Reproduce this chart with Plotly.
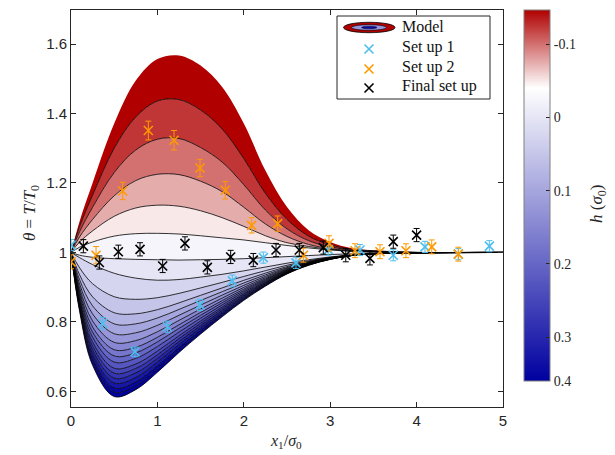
import plotly.graph_objects as go
from plotly.colors import sample_colorscale

# ---------------- data ----------------
x_grid = [0, 0.1, 0.25, 0.5, 0.75, 1.0, 1.25, 1.5, 1.75, 2.0, 2.25, 2.5, 2.75, 3.0, 3.25, 3.5, 4.0, 5.0]

h_levels = [-0.15, -0.125, -0.1, -0.075, -0.05, -0.025, 0.0, 0.025, 0.05, 0.075, 0.1, 0.125,
            0.15, 0.175, 0.2, 0.225, 0.25, 0.275, 0.3, 0.325, 0.35, 0.375, 0.4]

theta_h_m0150 = [1, 1.09, 1.20, 1.371, 1.495, 1.557, 1.567, 1.538, 1.476, 1.371, 1.236, 1.131, 1.064, 1.030, 1.012, 1.006, 1.0, 1.0]
theta_h_m0125 = [1, 1.075, 1.165, 1.30, 1.39, 1.436, 1.44, 1.41, 1.355, 1.27, 1.17, 1.095, 1.047, 1.022, 1.009, 1.005, 1.0, 1.0]
theta_h_m0100 = [1, 1.06, 1.13, 1.23, 1.295, 1.326, 1.328, 1.302, 1.26, 1.195, 1.122, 1.068, 1.034, 1.016, 1.007, 1.004, 1.0, 1.0]
theta_h_m0075 = [1, 1.045, 1.095, 1.163, 1.207, 1.225, 1.224, 1.205, 1.175, 1.13, 1.082, 1.046, 1.023, 1.011, 1.005, 1.003, 1.0, 1.0]
theta_h_m0050 = [1, 1.03, 1.062, 1.104, 1.128, 1.136, 1.133, 1.12, 1.10, 1.075, 1.048, 1.028, 1.017, 1.009, 1.004, 1.002, 1.0, 1.0]
theta_h_m0025 = [1, 1.015, 1.03, 1.047, 1.054, 1.055, 1.053, 1.048, 1.042, 1.036, 1.028, 1.020, 1.013, 1.007, 1.003, 1.001, 1.0, 1.0]
theta_h_0000 = [1, 0.992, 0.986, 0.982, 0.98, 0.979, 0.978, 0.979, 0.98, 0.982, 0.985, 0.988, 0.991, 0.994, 0.996, 0.998, 0.999, 1.0]
theta_h_0025 = [1, 0.985, 0.965, 0.940, 0.926, 0.920, 0.922, 0.929, 0.937, 0.947, 0.958, 0.969, 0.979, 0.987, 0.993, 0.997, 0.999, 1.0]
theta_h_0050 = [1, 0.9555, 0.9099, 0.8725, 0.865, 0.8697, 0.8821, 0.8978, 0.9138, 0.9309, 0.9475, 0.9631, 0.976, 0.9857, 0.9926, 0.9968, 0.999, 1.0]
theta_h_0075 = [1, 0.9354, 0.8722, 0.8264, 0.8233, 0.8352, 0.8548, 0.8765, 0.898, 0.9198, 0.9404, 0.9591, 0.9739, 0.9848, 0.9924, 0.9967, 0.999, 1.0]
theta_h_0100 = [1, 0.9214, 0.8461, 0.7944, 0.7944, 0.8113, 0.8359, 0.8618, 0.887, 0.9121, 0.9354, 0.9563, 0.9724, 0.9841, 0.9922, 0.9966, 0.999, 1.0]
theta_h_0125 = [1, 0.909, 0.8229, 0.766, 0.7687, 0.7901, 0.8191, 0.8486, 0.8772, 0.9053, 0.931, 0.9538, 0.9712, 0.9836, 0.992, 0.9965, 0.999, 1.0]
theta_h_0150 = [1, 0.8982, 0.8026, 0.7412, 0.7462, 0.7716, 0.8044, 0.8372, 0.8687, 0.8994, 0.9272, 0.9516, 0.97, 0.9831, 0.9919, 0.9964, 0.999, 1.0]
theta_h_0175 = [1, 0.8889, 0.7852, 0.7199, 0.727, 0.7557, 0.7918, 0.8273, 0.8614, 0.8943, 0.9239, 0.9498, 0.9691, 0.9827, 0.9918, 0.9964, 0.999, 1.0]
theta_h_0200 = [1, 0.8811, 0.7707, 0.7021, 0.7109, 0.7424, 0.7813, 0.8191, 0.8553, 0.89, 0.9211, 0.9482, 0.9683, 0.9823, 0.9917, 0.9963, 0.999, 1.0]
theta_h_0225 = [1, 0.8734, 0.7562, 0.6844, 0.6949, 0.7292, 0.7708, 0.8109, 0.8492, 0.8858, 0.9184, 0.9467, 0.9675, 0.982, 0.9916, 0.9963, 0.999, 1.0]
theta_h_0250 = [1, 0.8656, 0.7417, 0.6666, 0.6788, 0.7159, 0.7603, 0.8027, 0.8431, 0.8815, 0.9156, 0.9451, 0.9667, 0.9816, 0.9915, 0.9962, 0.999, 1.0]
theta_h_0275 = [1, 0.8594, 0.7301, 0.6524, 0.666, 0.7053, 0.7519, 0.7962, 0.8382, 0.8781, 0.9134, 0.9439, 0.966, 0.9813, 0.9914, 0.9962, 0.999, 1.0]
theta_h_0300 = [1, 0.8532, 0.7185, 0.6382, 0.6531, 0.6947, 0.7435, 0.7896, 0.8333, 0.8747, 0.9112, 0.9426, 0.9654, 0.981, 0.9913, 0.9962, 0.999, 1.0]
theta_h_0325 = [1, 0.847, 0.7069, 0.624, 0.6403, 0.6841, 0.7351, 0.783, 0.8284, 0.8713, 0.909, 0.9414, 0.9648, 0.9808, 0.9912, 0.9961, 0.999, 1.0]
theta_h_0350 = [1, 0.8408, 0.6953, 0.6098, 0.6275, 0.6735, 0.7267, 0.7765, 0.8235, 0.8679, 0.9068, 0.9402, 0.9641, 0.9805, 0.9911, 0.9961, 0.999, 1.0]
theta_h_0375 = [1, 0.8354, 0.6851, 0.5974, 0.6162, 0.6643, 0.7193, 0.7707, 0.8193, 0.865, 0.9049, 0.9391, 0.9636, 0.9802, 0.9911, 0.996, 0.999, 1.0]
theta_h_0400 = [1, 0.83, 0.675, 0.585, 0.605, 0.655, 0.712, 0.765, 0.815, 0.862, 0.903, 0.938, 0.963, 0.98, 0.991, 0.996, 0.999, 1.0]

model_curves = [theta_h_m0150, theta_h_m0125, theta_h_m0100, theta_h_m0075, theta_h_m0050,
                theta_h_m0025, theta_h_0000, theta_h_0025, theta_h_0050, theta_h_0075,
                theta_h_0100, theta_h_0125, theta_h_0150, theta_h_0175, theta_h_0200,
                theta_h_0225, theta_h_0250, theta_h_0275, theta_h_0300, theta_h_0325,
                theta_h_0350, theta_h_0375, theta_h_0400]

set1_x = [0, 0.367, 0.741, 1.115, 1.493, 1.867, 2.226, 2.604, 2.978, 3.345, 3.73, 4.097, 4.483, 4.842]
set1_y = [1.021, 0.796, 0.714, 0.786, 0.849, 0.918, 0.985, 0.970, 1.008, 1.007, 0.992, 1.016, 0.995, 1.018]
set1_err = [0.016, 0.017, 0.014, 0.016, 0.016, 0.017, 0.016, 0.016, 0.016, 0.016, 0.016, 0.016, 0.016, 0.016]

set2_x = [0, 0.29, 0.598, 0.895, 1.192, 1.493, 1.786, 2.091, 2.392, 2.69, 2.986, 3.287, 3.576, 3.877, 4.175, 4.483]
set2_y = [0.973, 0.992, 1.177, 1.351, 1.323, 1.243, 1.179, 1.078, 1.083, 0.992, 1.026, 1.005, 1.002, 1.005, 1.016, 0.995]
set2_err = [0.02, 0.025, 0.025, 0.027, 0.028, 0.025, 0.025, 0.022, 0.022, 0.02, 0.022, 0.02, 0.02, 0.02, 0.02, 0.02]

final_x = [0.143, 0.328, 0.548, 0.799, 1.061, 1.319, 1.578, 1.848, 2.11, 2.373, 2.642, 2.92, 3.18, 3.46, 3.73, 4.0]
final_y = [1.018, 0.971, 1.002, 1.009, 0.961, 1.026, 0.957, 0.987, 0.978, 1.007, 1.007, 1.014, 0.992, 0.983, 1.031, 1.050]
final_err = [0.019, 0.019, 0.019, 0.019, 0.019, 0.019, 0.019, 0.019, 0.019, 0.019, 0.019, 0.019, 0.019, 0.019, 0.019, 0.019]

cbar_tick_labels = ['-0.1', '0', '0.1', '0.2', '0.3', '0.4']
cbar_tick_h = [-0.1, 0.0, 0.1, 0.2, 0.3, 0.4]
legend_labels = ['Model', 'Set up 1', 'Set up 2', 'Final set up']

# ---------------- styling ----------------
PAGE_OFF = 8                      # browser body margin
W, H = 615 - PAGE_OFF, 455 - PAGE_OFF
L, R, T, B = 71, 503, 10, 407     # plot area in screenshot pixels
CB_H_BOTTOM, CB_H_TOP = 0.36, -0.147
colorscale = [[0.0, 'rgb(0,0,160)'], [0.79, 'rgb(255,255,255)'], [1.0, 'rgb(176,0,0)']]
C_SET1 = '#4DBEEE'
C_SET2 = '#FF9900'
C_FINAL = '#000000'
AX = '#262626'
SERIF = 'Liberation Serif, DejaVu Serif, serif'
SANS = 'Liberation Sans, Arial, sans-serif'


def h_to_c(h):
    c = (CB_H_BOTTOM - h) / (CB_H_BOTTOM - CB_H_TOP)
    return min(1.0, max(0.0, c))


def paper(px, py):
    return (px - L) / (R - L), (B - py) / (B - T)


fig = go.Figure()

# filled bands between successive model curves
for i, curve in enumerate(model_curves):
    if i == 0:
        fig.add_trace(go.Scatter(x=x_grid, y=curve, mode='lines',
                                 line=dict(width=0, shape='spline', color='rgba(0,0,0,0)'),
                                 showlegend=False, hoverinfo='skip'))
    else:
        col = sample_colorscale(colorscale, [h_to_c(h_levels[i - 1])])[0]
        fig.add_trace(go.Scatter(x=x_grid, y=curve, mode='lines', fill='tonexty', fillcolor=col,
                                 line=dict(width=0, shape='spline', color='rgba(0,0,0,0)'),
                                 showlegend=False, hoverinfo='skip'))

# contour lines
for i, curve in enumerate(model_curves):
    if i == 0:
        continue
    fig.add_trace(go.Scatter(x=x_grid, y=curve, mode='lines',
                             line=dict(width=0.8, color='black', shape='spline'),
                             showlegend=False, hoverinfo='skip'))

# measurement series
for xs, ys, es, col in [(set1_x, set1_y, set1_err, C_SET1),
                        (set2_x, set2_y, set2_err, C_SET2),
                        (final_x, final_y, final_err, C_FINAL)]:
    fig.add_trace(go.Scatter(x=xs, y=ys, mode='markers',
                             marker=dict(symbol='x-thin', size=9, line=dict(width=1.6, color=col), color=col),
                             error_y=dict(type='data', array=es, visible=True, color=col, thickness=1, width=3),
                             showlegend=False, hoverinfo='skip'))

# colour bar (dummy trace)
cb_tickvals = [h_to_c(h) for h in cbar_tick_h]
fig.add_trace(go.Scatter(x=[2.5], y=[1.0], mode='markers',
                         marker=dict(size=0.1, opacity=0, color=[0.5], colorscale=colorscale,
                                     cmin=0, cmax=1, showscale=True,
                                     colorbar=dict(thickness=26, thicknessmode='pixels',
                                                   len=370.5, lenmode='pixels',
                                                   x=(524 - L) / (R - L), xanchor='left',
                                                   y=1.0, yanchor='top', xpad=0, ypad=0,
                                                   outlinewidth=1, outlinecolor='#808080',
                                                   ticks='inside', ticklen=4, tickcolor=AX,
                                                   tickvals=cb_tickvals, ticktext=cbar_tick_labels,
                                                   tickfont=dict(family=SERIF, size=14, color=AX))),
                         showlegend=False, hoverinfo='skip'))

# legend drawn manually on a pixel-unit overlay axis
leg_marker_y = [49, 69, 88]
for yy, col in zip(leg_marker_y, [C_SET1, C_SET2, C_FINAL]):
    fig.add_trace(go.Scatter(x=[369], y=[yy], xaxis='x2', yaxis='y2', mode='markers',
                             marker=dict(symbol='x-thin', size=9, line=dict(width=1.6, color=col)),
                             showlegend=False, hoverinfo='skip'))

shapes = [
    dict(type='rect', xref='x2', yref='y2', x0=337, x1=490, y0=16, y1=99,
         line=dict(color=AX, width=1), fillcolor='white', layer='below'),
    dict(type='circle', xref='x2', yref='y2', x0=343.5, x1=395, y0=22.3, y1=32.7,
         line=dict(color='black', width=0.8), fillcolor='rgb(176,0,0)'),
    dict(type='circle', xref='x2', yref='y2', x0=351.5, x1=386.5, y0=24.7, y1=30.3,
         line=dict(color='black', width=0.6), fillcolor='rgb(150,150,220)'),
    dict(type='circle', xref='x2', yref='y2', x0=361.5, x1=377, y0=26.2, y1=28.8,
         line=dict(color='black', width=0.4), fillcolor='rgb(10,10,160)'),
]

annotations = []
for txt, yy in zip(legend_labels, [26.5, 46.5, 66.5, 86]):
    annotations.append(dict(x=400, y=yy, xref='x2', yref='y2', text=txt, showarrow=False,
                            xanchor='left', yanchor='middle',
                            font=dict(family=SERIF, size=16, color='#111111')))

ax_, ay_ = paper(31, 213)
annotations.append(dict(x=ax_, y=ay_, xref='paper', yref='paper', showarrow=False, textangle=-90,
                        xanchor='center', yanchor='middle',
                        text='<i>θ</i> = <i>T</i>/<i>T</i><sub>0</sub>',
                        font=dict(family=SERIF, size=17, color=AX)))
bx_, by_ = paper(286, 441)
annotations.append(dict(x=bx_, y=by_, xref='paper', yref='paper', showarrow=False,
                        xanchor='center', yanchor='middle',
                        text='<i>x</i><sub>1</sub>/<i>σ</i><sub>0</sub>',
                        font=dict(family=SERIF, size=16, color=AX)))
cx_, cy_ = paper(598, 204)
annotations.append(dict(x=cx_, y=cy_, xref='paper', yref='paper', showarrow=False, textangle=-90,
                        xanchor='center', yanchor='middle',
                        text='<i>h</i> (<i>σ</i><sub>0</sub>)',
                        font=dict(family=SERIF, size=17, color=AX)))

fig.update_layout(
    width=W, height=H,
    margin=dict(l=L - PAGE_OFF, r=W - (R - PAGE_OFF), t=T - PAGE_OFF, b=H - (B - PAGE_OFF), pad=0),
    paper_bgcolor='white', plot_bgcolor='white',
    showlegend=False,
    xaxis=dict(range=[0, 5], tickvals=[0, 1, 2, 3, 4, 5], ticks='inside', ticklen=5,
               tickcolor=AX, showline=True, linecolor=AX, linewidth=1, mirror='ticks',
               showgrid=False, zeroline=False,
               tickfont=dict(family=SANS, size=15, color=AX)),
    yaxis=dict(range=[0.555, 1.698], tickvals=[0.6, 0.8, 1.0, 1.2, 1.4, 1.6],
               ticktext=['0.6', '0.8', '1', '1.2', '1.4', '1.6'],
               ticks='inside', ticklen=5,
               tickcolor=AX, showline=True, linecolor=AX, linewidth=1, mirror='ticks',
               showgrid=False, zeroline=False,
               tickfont=dict(family=SANS, size=15, color=AX)),
    xaxis2=dict(overlaying='x', range=[L, R], visible=False, anchor='y2'),
    yaxis2=dict(overlaying='y', range=[B, T], visible=False, anchor='x2'),
    shapes=shapes,
    annotations=annotations,
)

fig.write_html('out.html')
